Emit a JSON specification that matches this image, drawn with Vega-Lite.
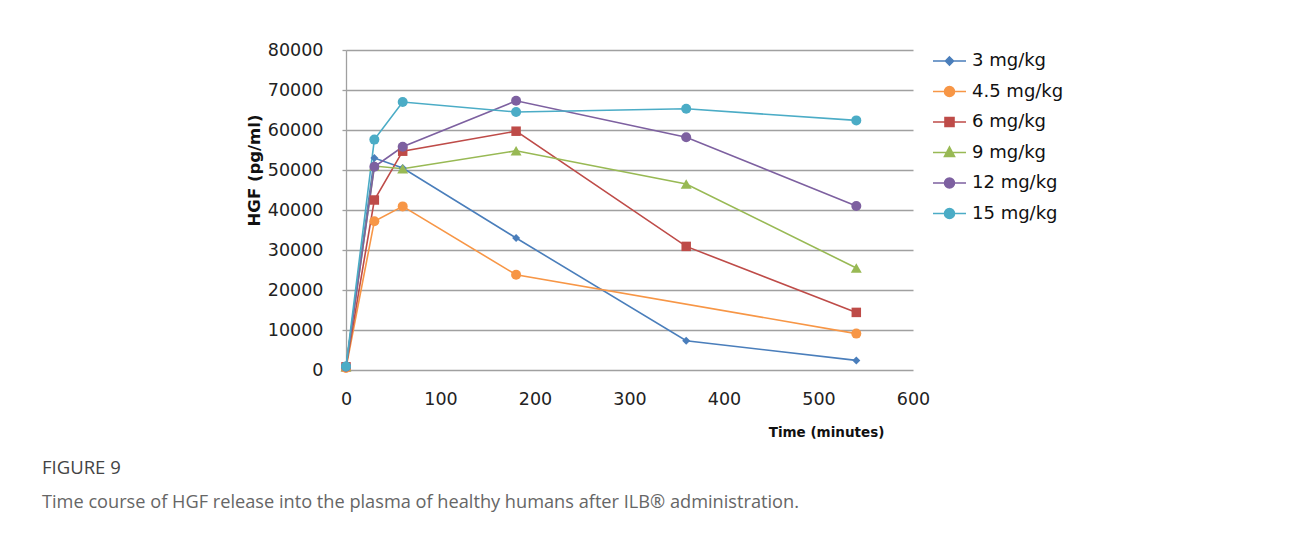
{
  "$schema": "https://vega.github.io/schema/vega-lite/v6.json",
  "autosize": "none",
  "width": 567,
  "height": 320,
  "padding": {"left": 346, "top": 50, "right": 382, "bottom": 165},
  "background": "white",
  "config": {"view": {"stroke": null}, "font": "DejaVu Sans"},
  "title": {
    "text": "FIGURE 9",
    "subtitle": "Time course of HGF release into the plasma of healthy humans after ILB® administration.",
    "orient": "bottom",
    "anchor": "start",
    "frame": "group",
    "dx": -304,
    "offset": 20,
    "font": "Open Sans",
    "fontSize": 18.5,
    "fontWeight": 500,
    "color": "#444444",
    "subtitleFont": "Open Sans",
    "subtitleFontSize": 18.2,
    "subtitleColor": "#666666",
    "subtitlePadding": 17
  },
  "data": {
    "values": [
      {"series": "3 mg/kg", "time": 0, "hgf": 800},
      {"series": "3 mg/kg", "time": 30, "hgf": 53000},
      {"series": "3 mg/kg", "time": 60, "hgf": 50500},
      {"series": "3 mg/kg", "time": 180, "hgf": 33000},
      {"series": "3 mg/kg", "time": 360, "hgf": 7300},
      {"series": "3 mg/kg", "time": 540, "hgf": 2400},
      {"series": "4.5 mg/kg", "time": 0, "hgf": 500},
      {"series": "4.5 mg/kg", "time": 30, "hgf": 37200},
      {"series": "4.5 mg/kg", "time": 60, "hgf": 40900},
      {"series": "4.5 mg/kg", "time": 180, "hgf": 23800},
      {"series": "4.5 mg/kg", "time": 540, "hgf": 9100},
      {"series": "6 mg/kg", "time": 0, "hgf": 800},
      {"series": "6 mg/kg", "time": 30, "hgf": 42500},
      {"series": "6 mg/kg", "time": 60, "hgf": 54700},
      {"series": "6 mg/kg", "time": 180, "hgf": 59700},
      {"series": "6 mg/kg", "time": 360, "hgf": 30900},
      {"series": "6 mg/kg", "time": 540, "hgf": 14400},
      {"series": "9 mg/kg", "time": 0, "hgf": 800},
      {"series": "9 mg/kg", "time": 30, "hgf": 51000},
      {"series": "9 mg/kg", "time": 60, "hgf": 50300},
      {"series": "9 mg/kg", "time": 180, "hgf": 54800},
      {"series": "9 mg/kg", "time": 360, "hgf": 46500},
      {"series": "9 mg/kg", "time": 540, "hgf": 25500},
      {"series": "12 mg/kg", "time": 0, "hgf": 800},
      {"series": "12 mg/kg", "time": 30, "hgf": 50800},
      {"series": "12 mg/kg", "time": 60, "hgf": 55800},
      {"series": "12 mg/kg", "time": 180, "hgf": 67300},
      {"series": "12 mg/kg", "time": 360, "hgf": 58200},
      {"series": "12 mg/kg", "time": 540, "hgf": 41000},
      {"series": "15 mg/kg", "time": 0, "hgf": 900},
      {"series": "15 mg/kg", "time": 30, "hgf": 57600},
      {"series": "15 mg/kg", "time": 60, "hgf": 67000},
      {"series": "15 mg/kg", "time": 180, "hgf": 64500},
      {"series": "15 mg/kg", "time": 360, "hgf": 65300},
      {"series": "15 mg/kg", "time": 540, "hgf": 62400}
    ]
  },
  "encoding": {
    "x": {
      "field": "time",
      "type": "quantitative",
      "scale": {"domain": [0, 600], "nice": false},
      "axis": {
        "values": [0, 100, 200, 300, 400, 500, 600],
        "title": "Time (minutes)",
        "titleFont": "DejaVu Sans",
        "titleFontSize": 13.5,
        "titleFontWeight": "bold",
        "titleColor": "#111111",
        "titleX": 480,
        "titleY": 62,
        "titleAnchor": null,
        "titleAlign": "center",
        "titleBaseline": "middle",
        "domain": false,
        "ticks": false,
        "grid": false,
        "labelFlush": false,
        "labelFont": "DejaVu Sans",
        "labelFontSize": 17.5,
        "labelColor": "#222222",
        "labelPadding": 20
      }
    },
    "y": {
      "field": "hgf",
      "type": "quantitative",
      "scale": {"domain": [0, 80000], "nice": false},
      "axis": {
        "values": [0, 10000, 20000, 30000, 40000, 50000, 60000, 70000, 80000],
        "format": "d",
        "title": "HGF (pg/ml)",
        "titleFont": "DejaVu Sans",
        "titleFontSize": 16.5,
        "titleFontWeight": "bold",
        "titleColor": "#111111",
        "titleX": -92,
        "titleY": 120,
        "titleAngle": -90,
        "titleAlign": "center",
        "titleBaseline": "middle",
        "domain": true,
        "domainColor": "#a0a0a0",
        "domainWidth": 1.3,
        "ticks": true,
        "tickSize": 4,
        "tickColor": "#a0a0a0",
        "tickWidth": 1.3,
        "grid": true,
        "gridColor": "#a0a0a0",
        "gridWidth": 1.3,
        "labelFlush": false,
        "labelFont": "DejaVu Sans",
        "labelFontSize": 17.5,
        "labelColor": "#222222",
        "labelPadding": 19
      }
    },
    "color": {
      "field": "series",
      "type": "nominal",
      "scale": {
        "domain": ["3 mg/kg", "4.5 mg/kg", "6 mg/kg", "9 mg/kg", "12 mg/kg", "15 mg/kg"],
        "range": ["#4a7ebb", "#f79646", "#be4b48", "#98b954", "#7d60a0", "#4bacc6"]
      },
      "legend": {
        "title": null,
        "orient": "none",
        "legendX": 592.5,
        "legendY": 0,
        "padding": 0,
        "symbolSize": 400,
        "symbolStrokeWidth": 1.6,
        "labelOffset": 11.5,
        "rowPadding": 10.5,
        "labelFont": "DejaVu Sans",
        "labelFontSize": 18,
        "labelColor": "#111111",
        "labelLimit": 300,
        "encode": {
          "symbols": {
            "update": {
              "shape": {"signal": "datum.value === '3 mg/kg' ? 'M-1.65,0H1.65M0,-0.4L0.4,0L0,0.4L-0.4,0Z' : datum.value === '6 mg/kg' ? 'M-1.65,0H1.65M-0.45,-0.45H0.45V0.45H-0.45Z' : datum.value === '9 mg/kg' ? 'M-1.65,0H1.65M0,-0.55L0.5,0.4H-0.5Z' : 'M-1.65,0H1.65M0.5,0A0.5,0.5,0,1,1,-0.5,0A0.5,0.5,0,1,1,0.5,0Z'"},
              "size": {"value": 400},
              "fill": {"scale": "color", "field": "value"},
              "stroke": {"scale": "color", "field": "value"},
              "strokeWidth": {"value": 1.6},
              "opacity": {"value": 1},
              "fillOpacity": {"value": 1},
              "strokeOpacity": {"value": 1}
            }
          }
        }
      }
    }
  },
  "layer": [
    {
      "mark": {"type": "line", "strokeWidth": 1.6},
      "encoding": {"detail": {"field": "series"}}
    },
    {
      "transform": [{"filter": "datum.series === '3 mg/kg'"}],
      "mark": {"type": "point", "filled": true, "opacity": 1, "shape": "diamond", "size": 64}
    },
    {
      "transform": [{"filter": "datum.series === '6 mg/kg'"}],
      "mark": {"type": "point", "filled": true, "opacity": 1, "shape": "square", "size": 90}
    },
    {
      "transform": [{"filter": "datum.series === '9 mg/kg'"}],
      "mark": {"type": "point", "filled": true, "opacity": 1, "shape": "triangle-up", "size": 120}
    },
    {
      "transform": [{"filter": "datum.series === '4.5 mg/kg' || datum.series === '12 mg/kg' || datum.series === '15 mg/kg'"}],
      "mark": {"type": "point", "filled": true, "opacity": 1, "shape": "circle", "size": 100}
    }
  ]
}
